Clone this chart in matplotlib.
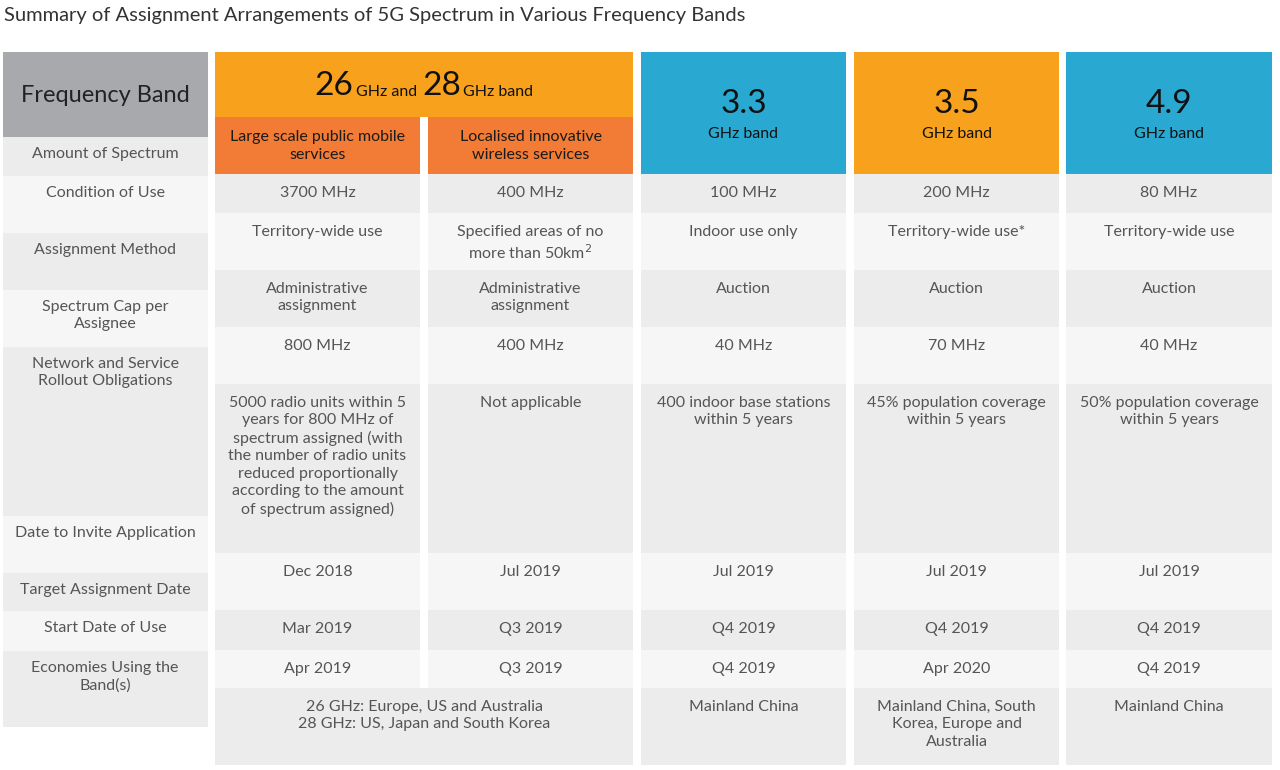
import matplotlib
matplotlib.use("Agg")
import matplotlib.pyplot as plt
from matplotlib.patches import Rectangle

plt.rcParams['font.family'] = ['Lato', 'DejaVu Sans']

title = "Summary of Assignment Arrangements of 5G Spectrum in Various Frequency Bands"
row_labels = ["Amount of Spectrum", "Condition of Use", "Assignment Method",
              "Spectrum Cap per\nAssignee", "Network and Service\nRollout Obligations",
              "Date to Invite Application", "Target Assignment Date",
              "Start Date of Use", "Economies Using the\nBand(s)"]
sub_headers = ["Large scale public mobile\nservices", "Localised innovative\nwireless services"]
band_big = ["3.3", "3.5", "4.9"]
col_large = ["3700 MHz", "Territory-wide use", "Administrative\nassignment", "800 MHz",
             "5000 radio units within 5\nyears for 800 MHz of\nspectrum assigned (with\nthe number of radio units\nreduced proportionally\naccording to the amount\nof spectrum assigned)",
             "Dec 2018", "Mar 2019", "Apr 2019"]
col_local = ["400 MHz", "Specified areas of no\nmore than 50km$^2$", "Administrative\nassignment", "400 MHz",
             "Not applicable", "Jul 2019", "Q3 2019", "Q3 2019"]
col_33 = ["100 MHz", "Indoor use only", "Auction", "40 MHz",
          "400 indoor base stations\nwithin 5 years", "Jul 2019", "Q4 2019", "Q4 2019", "Mainland China"]
col_35 = ["200 MHz", "Territory-wide use*", "Auction", "70 MHz",
          "45% population coverage\nwithin 5 years", "Jul 2019", "Q4 2019", "Apr 2020",
          "Mainland China, South\nKorea, Europe and\nAustralia"]
col_49 = ["80 MHz", "Territory-wide use", "Auction", "40 MHz",
          "50% population coverage\nwithin 5 years", "Jul 2019", "Q4 2019", "Q4 2019", "Mainland China"]
economies_mm = "26 GHz: Europe, US and Australia\n28 GHz: US, Japan and South Korea"

fig = plt.figure(figsize=(12.8, 7.7), dpi=100)
ax = fig.add_axes([0, 0, 1, 1])
ax.set_xlim(0, 1280); ax.set_ylim(770, 0); ax.axis('off')

ORANGE = "#f7a11c"; BLUE = "#29a9d1"; SUB = "#f27b35"; GRAY = "#a8a9ad"
D1 = "#ececec"; D2 = "#f6f6f6"
TXT = "#555555"
FS = 11.5
LS = 1.3

def rect(x0, y0, x1, y1, c):
    ax.add_patch(Rectangle((x0, y0), x1 - x0, y1 - y0, color=c, lw=0))

ax.text(4, 16, title, fontsize=14.5, color="#333333", va='center', ha='left')

# left column
rect(3, 52, 208, 137, GRAY)
ax.text(105, 96, "Frequency Band", fontsize=17, color="#222222", ha='center', va='center')
lb = [137, 176, 233, 290, 347, 516, 573, 611, 651, 727]
for i, lab in enumerate(row_labels):
    rect(3, lb[i], 208, lb[i + 1], D1 if i % 2 == 0 else D2)
    ax.text(105, lb[i] + 10, lab, fontsize=FS, color=TXT, ha='center', va='top', linespacing=LS)

cols = [(215, 420), (428, 633), (641, 846), (854, 1059), (1066, 1272)]
rb = [174, 213, 270, 327, 384, 553, 610, 650, 688, 765]

# headers
rect(215, 52, 633, 117, ORANGE)
ax.text(353, 86, "26", fontsize=24, color="#111111", ha='right', va='center')
ax.text(356, 92, "GHz and", fontsize=11.5, color="#111111", ha='left', va='center')
ax.text(422, 86, "28", fontsize=24, color="#111111", ha='left', va='center')
ax.text(463, 92, "GHz band", fontsize=11.5, color="#111111", ha='left', va='center')
for (x0, x1), t in zip(cols[:2], sub_headers):
    rect(x0, 117, x1, 174, SUB)
    ax.text((x0 + x1) / 2, 146, t, fontsize=FS, color="#1a1a1a", ha='center', va='center', linespacing=LS)
for (x0, x1), b, c in zip(cols[2:], band_big, [BLUE, ORANGE, BLUE]):
    rect(x0, 52, x1, 174, c)
    ax.text((x0 + x1) / 2, 104, b, fontsize=24, color="#111111", ha='center', va='center')
    ax.text((x0 + x1) / 2, 134, "GHz band", fontsize=11.5, color="#111111", ha='center', va='center')

# body
for ci, vals in enumerate([col_large, col_local, col_33, col_35, col_49]):
    x0, x1 = cols[ci]
    for ri, v in enumerate(vals):
        rect(x0, rb[ri], x1, rb[ri + 1], D1 if ri % 2 == 0 else D2)
        ax.text((x0 + x1) / 2, rb[ri] + 12, v, fontsize=FS, color=TXT, ha='center', va='top', linespacing=LS)
rect(215, 688, 633, 765, D1)
ax.text(424, 700, economies_mm, fontsize=FS, color=TXT, ha='center', va='top', linespacing=LS)

fig.savefig("out.png", dpi=100, facecolor="white")
